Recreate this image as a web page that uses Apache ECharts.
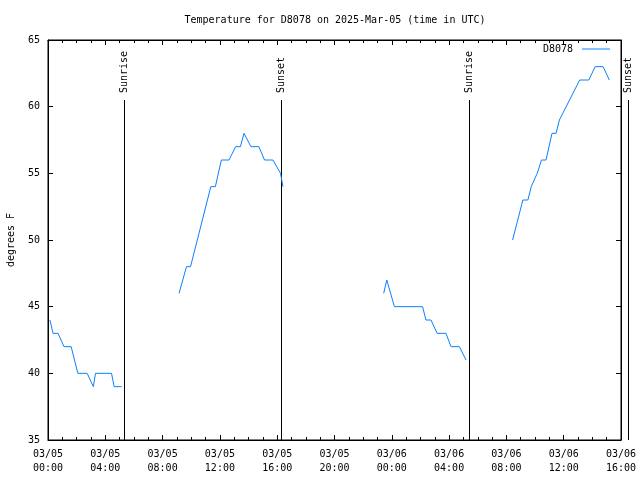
<!DOCTYPE html>
<html><head><meta charset="utf-8">
<script src="https://cdn.jsdelivr.net/npm/echarts@6/dist/echarts.min.js"></script>
<style>html,body{margin:0;padding:0;background:#fff}#c{width:640px;height:480px}</style>
</head><body><div id="c"></div>
<script>
// ---- data (UTC) ----
const seg1Times = ['2025-03-05 00:08','2025-03-05 00:21','2025-03-05 00:42','2025-03-05 01:07','2025-03-05 01:37','2025-03-05 02:05','2025-03-05 02:44','2025-03-05 03:10','2025-03-05 03:19','2025-03-05 04:26','2025-03-05 04:37','2025-03-05 05:08'];
const seg1Temps = [44,43,43,42,42,40,40,39,40,40,39,39];

const seg2Times = ['2025-03-05 09:09','2025-03-05 09:40','2025-03-05 09:57','2025-03-05 11:22','2025-03-05 11:41','2025-03-05 12:06','2025-03-05 12:38','2025-03-05 13:06','2025-03-05 13:26','2025-03-05 13:41','2025-03-05 14:10','2025-03-05 14:43','2025-03-05 15:07','2025-03-05 15:42','2025-03-05 16:14','2025-03-05 16:24'];
const seg2Temps = [46,48,48,54,54,56,56,57,57,58,57,57,56,56,55,54];

const seg3Times = ['2025-03-05 23:26','2025-03-05 23:39','2025-03-06 00:11','2025-03-06 02:09','2025-03-06 02:23','2025-03-06 02:44','2025-03-06 03:10','2025-03-06 03:47','2025-03-06 04:08','2025-03-06 04:43','2025-03-06 05:11'];
const seg3Temps = [46,47,45,45,44,44,43,43,42,42,41];

const seg4Times = ['2025-03-06 08:26','2025-03-06 09:09','2025-03-06 09:30','2025-03-06 09:44','2025-03-06 10:09','2025-03-06 10:27','2025-03-06 10:46','2025-03-06 11:11','2025-03-06 11:28','2025-03-06 11:42','2025-03-06 13:07','2025-03-06 13:45','2025-03-06 14:12','2025-03-06 14:45','2025-03-06 15:11'];
const seg4Temps = [50,53,53,54,55,56,56,58,58,59,62,62,63,63,62];

const sunEventTimes = ['2025-03-05 05:18','2025-03-05 16:16','2025-03-06 05:23','2025-03-06 16:29'];
const sunEventLabels = ['Sunrise','Sunset','Sunrise','Sunset'];

const xStart = '2025-03-05 00:00';
const xEnd = '2025-03-06 16:00';
const yMin = 35, yMax = 65, yStep = 5;
const sunLineTop = 60.5;

const seriesName = 'D8078';
const titleText = 'Temperature for D8078 on 2025-Mar-05 (time in UTC)';
const yName = 'degrees F';

// ---- helpers ----
function toMs(s){
  const [d,t] = s.split(' ');
  const [Y,M,D] = d.split('-').map(Number);
  const [h,m] = t.split(':').map(Number);
  return Date.UTC(Y,M-1,D,h,m);
}
function pad(n){return (n<10?'0':'')+n;}
function fmt(v){
  const d = new Date(v);
  return pad(d.getUTCMonth()+1)+'/'+pad(d.getUTCDate())+'\n'+pad(d.getUTCHours())+':'+pad(d.getUTCMinutes());
}
function pairs(ts, vs){ return ts.map((t,i)=>[toMs(t), vs[i]]); }

const FONT = "'DejaVu Sans Mono', monospace";
const LINE_COLOR = '#0a80ff';
const HOUR = 3600*1000;

const segments = [[seg1Times,seg1Temps],[seg2Times,seg2Temps],[seg3Times,seg3Temps],[seg4Times,seg4Temps]];

const lineSeries = segments.map(([t,v]) => ({
  type:'line', name: seriesName, data: pairs(t,v),
  xAxisIndex:0, yAxisIndex:0,
  symbol:'none', showSymbol:false,
  lineStyle:{color:LINE_COLOR, width:1},
  itemStyle:{color:LINE_COLOR},
  animation:false
}));

const sunSeries = {
  type:'custom', name:'sun', xAxisIndex:0, yAxisIndex:0, clip:false, animation:false,
  data: sunEventTimes.map((t,i)=>[toMs(t), i]),
  renderItem: function(params, api){
    const t = api.value(0);
    const idx = api.value(1);
    const p0 = api.coord([t, sunLineTop]);
    const p1 = api.coord([t, yMin]);
    return {
      type:'group',
      children:[
        {type:'line', shape:{x1:Math.round(p0[0])+0.5, y1:p0[1], x2:Math.round(p1[0])+0.5, y2:p1[1]}, style:{stroke:'#000', lineWidth:1}},
        {type:'text', x:Math.round(p0[0])+0.5, y:p0[1]-7, rotation:Math.PI/2,
         style:{text:sunEventLabels[idx], fill:'#000', font:'10px '+FONT, align:'left', verticalAlign:'middle'}}
      ]
    };
  }
};

const commonX = {
  type:'value', min:toMs(xStart), max:toMs(xEnd), interval:4*HOUR,
  splitLine:{show:false},
  axisLine:{show:true, lineStyle:{color:'#000', width:1}},
  axisTick:{show:true, inside:true, length:5, lineStyle:{color:'#000'}},
  minorTick:{show:true, splitNumber:4, length:3, lineStyle:{color:'#000'}},
};
const commonY = {
  type:'value', min:yMin, max:yMax, interval:yStep,
  splitLine:{show:false},
  axisLine:{show:true, lineStyle:{color:'#000', width:1}},
  axisTick:{show:true, inside:true, length:5, lineStyle:{color:'#000'}},
};

const chart = echarts.init(document.getElementById('c'), null, {renderer:'canvas'});
chart.setOption({
  backgroundColor:'#fff',
  animation:false,
  title:{text:titleText, left:330, textAlign:'center', top:10,
    textStyle:{fontFamily:FONT, fontSize:10, fontWeight:'normal', color:'#000'}},
  legend:{data:[seriesName], right:25, top:39, align:'right', icon:'rect',
    itemWidth:28, itemHeight:1, itemStyle:{color:LINE_COLOR},
    textStyle:{fontFamily:FONT, fontSize:10, color:'#000', padding:[0,4,0,0]}},
  grid:{left:48, right:19, top:40, bottom:40, show:true, borderColor:'#000', borderWidth:1, containLabel:false, outerBoundsMode:'none'},
  xAxis:[
    Object.assign({}, commonX, {position:'bottom',
      axisLabel:{show:true, formatter:fmt, fontFamily:FONT, fontSize:10, color:'#000', lineHeight:14, margin:7}}),
    Object.assign({}, commonX, {position:'top', axisLabel:{show:false}})
  ],
  yAxis:[
    Object.assign({}, commonY, {position:'left', name:yName, nameLocation:'middle', nameGap:32,
      nameTextStyle:{fontFamily:FONT, fontSize:10, color:'#000'},
      axisLabel:{show:true, fontFamily:FONT, fontSize:10, color:'#000', margin:8}}),
    Object.assign({}, commonY, {position:'right', axisLabel:{show:false}})
  ],
  series: lineSeries.concat([sunSeries])
});
</script></body></html>
